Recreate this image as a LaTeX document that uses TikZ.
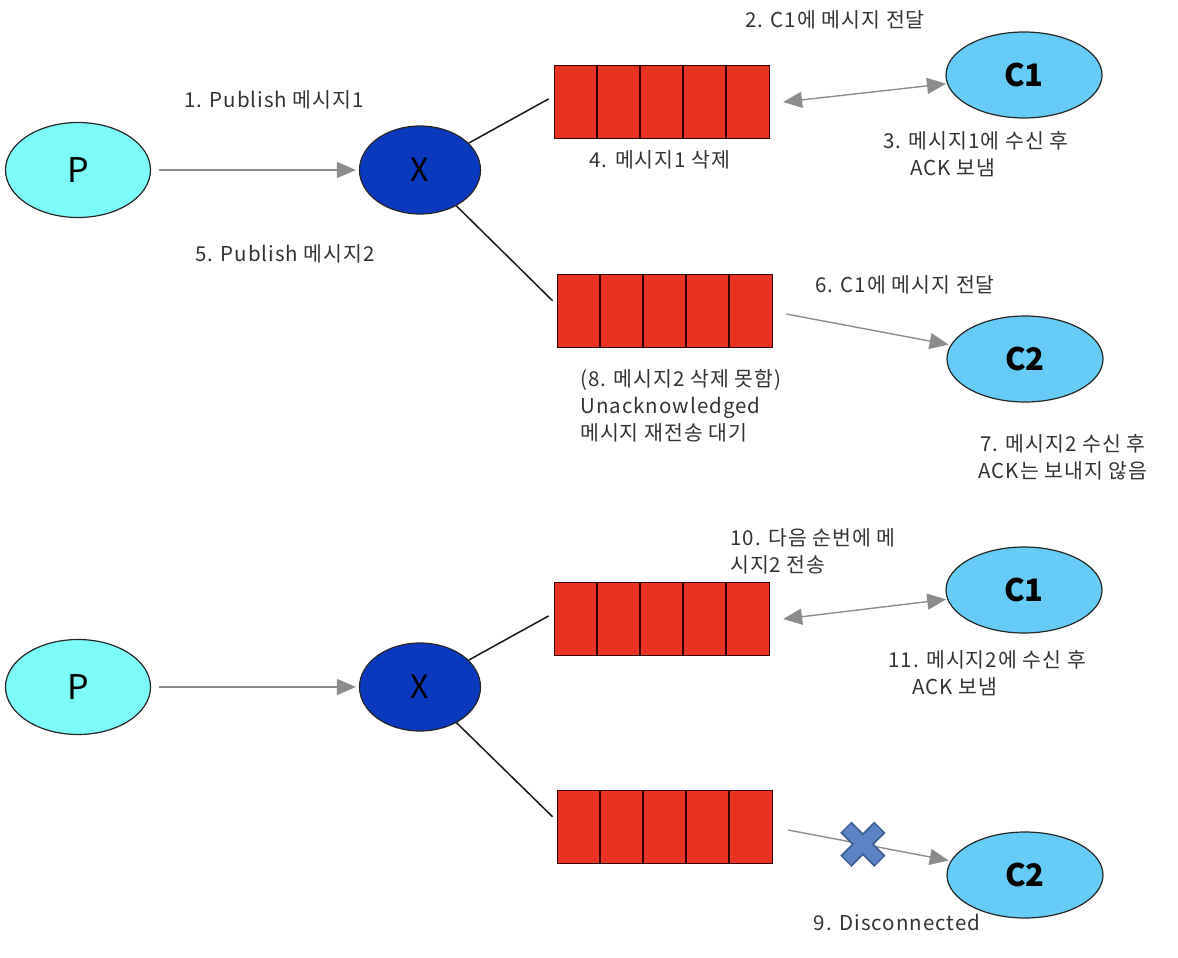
\documentclass[tikz,border=0pt]{standalone}
\usepackage{fontspec}
\setmainfont[LetterSpace=5]{Noto Sans CJK KR}
\newfontfamily\nodefont{Noto Sans CJK KR}
\usepackage{tikz}
\usetikzlibrary{shapes.geometric,arrows.meta,positioning}
\definecolor{prodcyan}{HTML}{7DFBFB}
\definecolor{exchblue}{HTML}{0A38BE}
\definecolor{queuered}{HTML}{E83222}
\definecolor{consblue}{HTML}{66CBF6}
\definecolor{crossfill}{HTML}{5B84C4}
\definecolor{crossline}{HTML}{3D5F96}

\begin{document}
\begin{tikzpicture}[
                          x=1pt, y=-1pt,
                          on grid,
                          font=\fontsize{20.5}{27}\selectfont,
                          party/.style={ellipse, draw=black!85, line width=1.2pt, inner sep=0pt, text=black},
                          producer/.style={party, fill=prodcyan, minimum width=145pt, minimum height=95pt,
                            font=\nodefont\fontsize{34}{36}\selectfont},
                          exchange/.style={party, fill=exchblue, minimum width=121pt, minimum height=88pt,
                            font=\nodefont\fontsize{32}{36}\selectfont},
                          consumer/.style={party, fill=consblue, minimum width=156pt, minimum height=86pt,
                            font=\nodefont\fontsize{31}{36}\selectfont\bfseries},
                          queue/.style={rectangle, draw=black!80!red, line width=1.2pt, fill=queuered,
                            minimum width=215pt, minimum height=73pt, inner sep=0pt},
                          bind/.style={line width=1.5pt, black!90},
                          tip/.tip={Triangle[length=19pt,width=16pt]},
                          flow/.style={line width=1.4pt, black!45, -tip},
                          flowboth/.style={line width=1.4pt, black!45, tip-tip},
                          note/.style={text=black!80, inner sep=0pt}]
                      \useasboundingbox (0,0) rectangle (1178,958);
                      % upper picture
                      \node[producer] (P_1) at (78,170) {P};
                      \node[exchange] (X_1) [right=342pt of P_1] {X};
                      \node[queue] (Q_1a) at (662,102) {};
                      \node[queue] (Q_1b) at (665,311) {};
                      \node[consumer] (C1_1) at (1024,75) {C1};
                      \node[consumer] (C2_1) at (1025,359) {C2};
                      % lower picture
                      \node[producer] (P_2) [below=517pt of P_1] {P};
                      \node[exchange] (X_2) [below=517pt of X_1] {X};
                      \node[queue] (Q_2a) [below=517pt of Q_1a] {};
                      \node[queue] (Q_2b) [below=516pt of Q_1b] {};
                      \node[consumer] (C1_2) [below=515pt of C1_1] {C1};
                      \node[consumer] (C2_2) [below=516pt of C2_1] {C2};
                      \foreach \q in {Q_1a,Q_1b,Q_2a,Q_2b}
                        \foreach \i in {1,...,4}
                          \draw[line width=1.2pt, black!80!red] ([xshift=\i*43pt]\q.north west) -- ([xshift=\i*43pt]\q.south west);
                      \path
                      (P_1) edge[flow, shorten <=8pt, shorten >=3pt] (X_1)
                      (X_1) edge[bind, shorten >=6pt] ([yshift=6pt]Q_1a.west)
                      (X_1) edge[bind, shorten >=6pt] ([yshift=6pt]Q_1b.west)
                      ([xshift=13pt]Q_1a.east) edge[flowboth, shorten >=1pt] (C1_1)
                      ([xshift=13pt,yshift=-3pt]Q_1b.east) edge[flow, shorten >=2pt] (C2_1)
                      (P_2) edge[flow, shorten <=8pt, shorten >=3pt] (X_2)
                      (X_2) edge[bind, shorten >=6pt] ([yshift=6pt]Q_2a.west)
                      (X_2) edge[bind, shorten >=6pt] ([yshift=6pt]Q_2b.west)
                      ([xshift=13pt]Q_2a.east) edge[flowboth, shorten >=1pt] (C1_2)
                      ([xshift=15pt,yshift=-3pt]Q_2b.east) edge[flow, shorten >=2pt] coordinate[pos=0.46] (cut) (C2_2)
                      ;
                      % broken link
                      \draw[line width=16pt, crossline] ([shift={(-17,-17)}]cut) -- ([shift={(17,17)}]cut)
                        ([shift={(-17,17)}]cut) -- ([shift={(17,-17)}]cut);
                      \draw[line width=12pt, crossfill] ([shift={(-16,-16)}]cut) -- ([shift={(16,16)}]cut)
                        ([shift={(-16,16)}]cut) -- ([shift={(16,-16)}]cut);
                      % labels
                      \node[note] (pub1) at (274,100) {1. Publish 메시지1};
                      \node[note] (pub2) at (285,254) {5. Publish 메시지2};
                      \node[note] (send1) at (835,20) {2. C1에 메시지 전달};
                      \node[note] (del1) at (660,160) {4. 메시지1 삭제};
                      \node[note, anchor=north west, align=left] (ack1) at (883,131) {3. 메시지1에 수신 후\\\hspace*{27pt}ACK 보냄};
                      \node[note] (send2) at (905,285) {6. C1에 메시지 전달};
                      \node[note, anchor=north west, align=left] (unack) at (580,369) {(8. 메시지2 삭제 못함)\\ Unacknowledged\\ 메시지 재전송 대기};
                      \node[note, align=center] (noack) at (1063,457) {7. 메시지2 수신 후\\ACK는 보내지 않음};
                      \node[note, anchor=north west, align=left] (resend) at (730,528) {10. 다음 순번에 메\\시지2 전송};
                      \node[note, anchor=north west, align=left] (ack2) at (888,650) {11. 메시지2에 수신 후\\\hspace*{24pt}ACK 보냄};
                      \node[note] (disc) at (897,922) {9. Disconnected};
                  \end{tikzpicture}
\end{document}
